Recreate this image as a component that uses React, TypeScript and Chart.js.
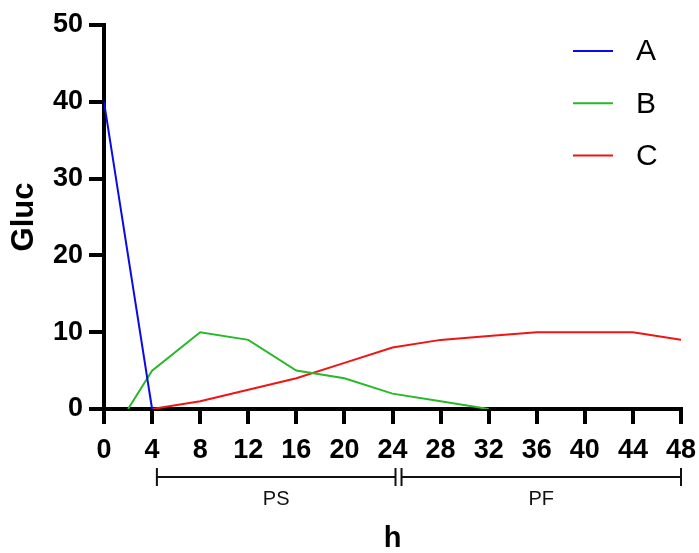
import React, { useEffect, useRef } from "react";
import { Chart, registerables } from "chart.js";

Chart.register(...registerables);

const FONT = "'Liberation Sans', Arial, sans-serif";

const xTickValues = [0, 4, 8, 12, 16, 20, 24, 28, 32, 36, 40, 44, 48];
const seriesNames = ["A", "B", "C"];
const seriesColors = ["rgb(10, 10, 230)", "rgb(40, 185, 40)", "rgb(240, 20, 20)"];

const aHours = [0, 4];
const aValues = [40, 0];
const bHours = [2, 4, 8, 12, 16, 20, 24, 28, 32];
const bValues = [0, 5, 10, 9, 5, 4, 2, 1, 0];
const cHours = [4, 8, 12, 16, 20, 24, 28, 32, 36, 40, 44, 48];
const cValues = [0, 1, 2.5, 4, 6, 8, 9, 9.5, 10, 10, 10, 9];

const phaseLabels = ["PS", "PF"];
const phaseStart = [4.4, 24.75];
const phaseEnd = [24.25, 48];

const toPoints = (xs: number[], ys: number[]) => xs.map((x, i) => ({ x, y: ys[i] }));

const overlayPlugin = {
  id: "overlay",
  afterDraw(chart: any) {
    const ctx = chart.ctx;
    const xs = chart.scales.x;
    ctx.save();
    // phase brackets
    ctx.strokeStyle = "#111";
    ctx.fillStyle = "#111";
    ctx.lineWidth = 2;
    const by = 477;
    phaseLabels.forEach((label, i) => {
      const x1 = xs.getPixelForValue(phaseStart[i]);
      const x2 = xs.getPixelForValue(phaseEnd[i]);
      ctx.beginPath();
      ctx.moveTo(x1, by);
      ctx.lineTo(x2, by);
      ctx.moveTo(x1, by - 9);
      ctx.lineTo(x1, by + 9);
      ctx.moveTo(x2, by - 9);
      ctx.lineTo(x2, by + 9);
      ctx.stroke();
      ctx.font = `20px ${FONT}`;
      ctx.textAlign = "center";
      ctx.textBaseline = "middle";
      ctx.fillText(label, (x1 + x2) / 2, 499);
    });
    // legend
    seriesNames.forEach((name, i) => {
      const y = 51 + i * 52.3;
      ctx.strokeStyle = seriesColors[i];
      ctx.lineWidth = 2;
      ctx.beginPath();
      ctx.moveTo(573, y);
      ctx.lineTo(613, y);
      ctx.stroke();
      ctx.fillStyle = "#000";
      ctx.font = `30px ${FONT}`;
      ctx.textAlign = "left";
      ctx.textBaseline = "middle";
      ctx.fillText(name, 636, y + 1);
    });
    ctx.restore();
  },
};

export default function App() {
  const ref = useRef<HTMLCanvasElement | null>(null);
  useEffect(() => {
    if (!ref.current) return;
    const mk = (i: number, data: any[]) => ({
      label: seriesNames[i],
      data,
      borderColor: seriesColors[i],
      backgroundColor: seriesColors[i],
      borderWidth: 2,
      pointRadius: 0,
      tension: 0,
      fill: false,
    });
    const chart = new Chart(ref.current, {
      type: "line",
      data: {
        datasets: [
          mk(0, toPoints(aHours, aValues)),
          mk(1, toPoints(bHours, bValues)),
          mk(2, toPoints(cHours, cValues)),
        ],
      },
      options: {
        responsive: false,
        animation: false,
        layout: { padding: { left: 0, right: 18, top: 25, bottom: 0 } },
        plugins: { legend: { display: false }, tooltip: { enabled: false } },
        scales: {
          x: {
            type: "linear",
            min: 0,
            max: 48,
            afterBuildTicks: (s: any) => {
              s.ticks = xTickValues.map((v) => ({ value: v }));
            },
            afterFit: (s: any) => {
              s.height = 144;
              s.paddingLeft = 0;
              s.paddingRight = 0;
            },
            border: { display: true, color: "#000", width: 4 },
            grid: { display: true, drawOnChartArea: false, drawTicks: true, tickLength: 15, lineWidth: 4, color: "#000" },
            ticks: { color: "#000", font: { family: FONT, size: 27, weight: "bold" }, padding: 10, maxRotation: 0, autoSkip: false },
            title: {
              display: true,
              text: "h",
              color: "#000",
              font: { family: FONT, size: 29, weight: "bold", lineHeight: 1 },
              padding: { top: 0, bottom: 0 },
            },
          },
          y: {
            type: "linear",
            min: 0,
            max: 50,
            afterFit: (s: any) => {
              s.width = 104;
              s.paddingTop = 0;
              s.paddingBottom = 0;
            },
            border: { display: true, color: "#000", width: 4 },
            grid: { display: true, drawOnChartArea: false, drawTicks: true, tickLength: 15, lineWidth: 4, color: "#000" },
            ticks: { color: "#000", font: { family: FONT, size: 27, weight: "bold" }, padding: 6, stepSize: 10 },
            title: {
              display: true,
              text: "Gluc",
              color: "#000",
              font: { family: FONT, size: 31, weight: "bold", lineHeight: 1.2 },
              padding: { top: 6, bottom: 0 },
            },
          },
        },
      } as any,
      plugins: [overlayPlugin],
    });
    return () => chart.destroy();
  }, []);
  return (
    <div style={{ position: "absolute", left: 0, top: 0, width: 699, height: 553, background: "#fff" }}>
      <canvas ref={ref} width={699} height={553} />
    </div>
  );
}
